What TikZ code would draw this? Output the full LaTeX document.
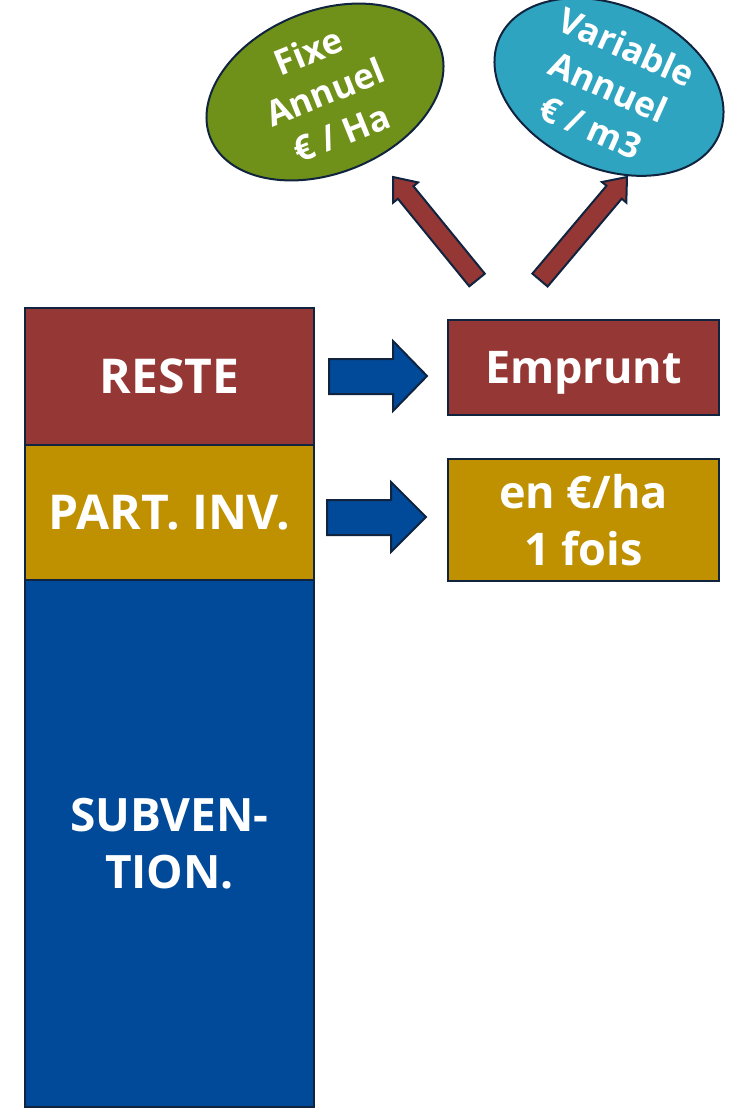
\documentclass[tikz,border=0pt]{standalone}
\usepackage{fontspec}
\setmainfont{Open Sans}
\usetikzlibrary{shapes.geometric}

\definecolor{brick}{HTML}{953735}
\definecolor{ochre}{HTML}{BF9000}
\definecolor{royal}{HTML}{004A99}
\definecolor{olive}{HTML}{6F9019}
\definecolor{lagoon}{HTML}{2FA4C0}
\definecolor{navy}{HTML}{10233F}

\tikzset{
  part/.style={draw=navy, line width=2pt, fill=#1, text=white, align=center,
    minimum width=289pt, inner sep=0pt},
  box/.style={draw=navy, line width=2pt, fill=#1, text=white, align=center,
    minimum width=271pt, inner sep=0pt,
    font=\bfseries\fontsize{45}{57}\selectfont},
  cost/.style={ellipse, draw=navy, line width=2pt, fill=#1, text=white, align=center,
    inner sep=0pt, font=\bfseries\fontsize{35}{44}\selectfont},
  fat/.style={draw=navy, line width=2pt, fill=#1, line join=miter}
}

\begin{document}
\begin{tikzpicture}[x=1pt,y=-1pt]
\useasboundingbox (0,0) rectangle (738,1108);

% Left column
\node[part=brick, minimum height=137pt, font=\bfseries\fontsize{48}{57}\selectfont]
  (reste) at (169.5,376.5) {RESTE};
\node[part=ochre, minimum height=135pt, font=\bfseries\fontsize{48}{57}\selectfont]
  (partinv) at (169.5,512.5) {PART. INV.};
\node[part=royal, minimum height=527pt, font=\bfseries\fontsize{46}{57}\selectfont]
  (subv) at (169.5,843.5) {SUBVEN-\\TION.};

% Right boxes
\node[box=brick, minimum height=95pt, text depth=0pt] (emprunt) at (583.5,367.5) {Emprunt};
\node[box=ochre, minimum height=122pt] (fois) at (583.5,520) {en €/ha\\1 fois};

% Blue arrows
\draw[fat=royal] (329,359) -- (393,359) -- (393,341) -- (427,376)
  -- (393,411) -- (393,394) -- (329,394) -- cycle;
\draw[fat=royal] (327,500) -- (391,500) -- (391,482) -- (426,517)
  -- (391,552) -- (391,535) -- (327,535) -- cycle;

% Red arrows
\draw[fat=brick] (484.8,273.7) -- (413.4,186.2) -- (418,182.4) -- (393,177)
  -- (393.2,202.6) -- (397.9,198.8) -- (469.3,286.3) -- cycle;
\draw[fat=brick] (532.4,273.6) -- (606.5,185.8) -- (601.9,182) -- (627,177)
  -- (626.3,202.6) -- (621.7,198.7) -- (547.6,286.5) -- cycle;

% Ellipses
\node[cost=olive, minimum width=247pt, minimum height=141pt, rotate=22]
  (fixe) at (325,92) {Fixe\\Annuel\\€ / Ha};
\node[cost=lagoon, minimum width=240pt, minimum height=140pt, rotate=-24]
  (variable) at (609,87) {Variable\\Annuel\\€ / m3};

\end{tikzpicture}
\end{document}
